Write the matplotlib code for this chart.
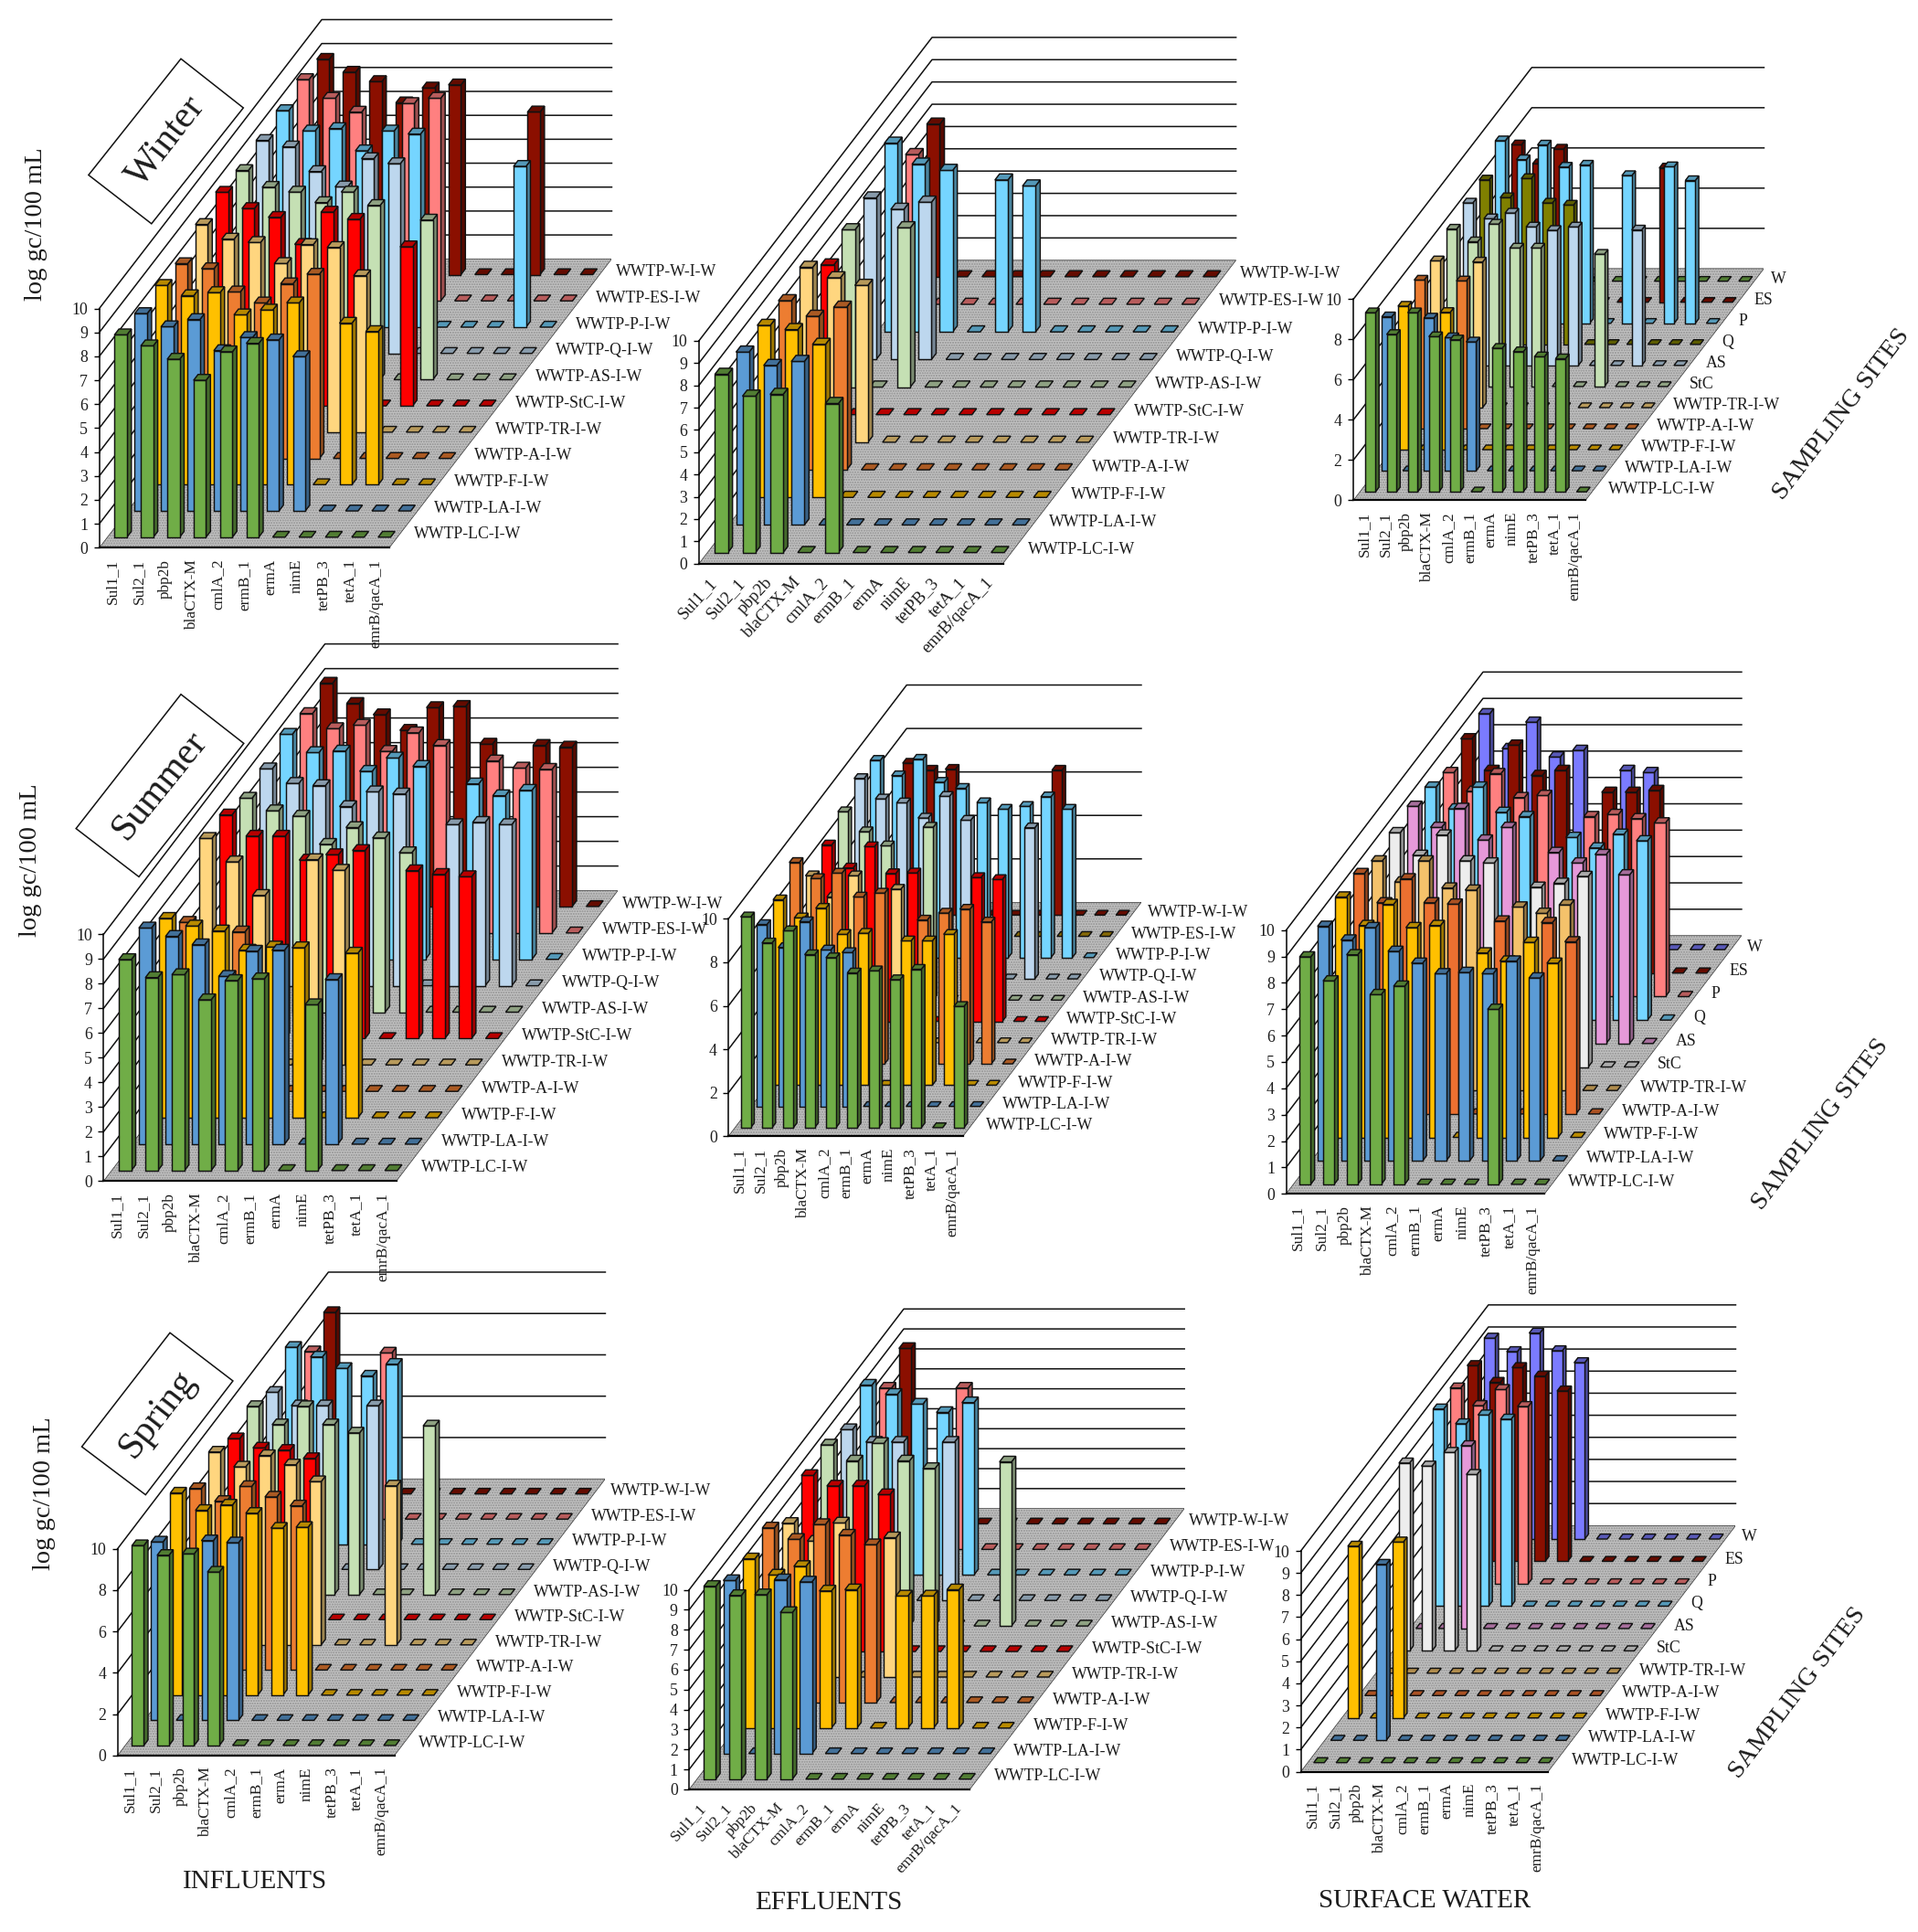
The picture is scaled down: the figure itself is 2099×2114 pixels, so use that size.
import matplotlib
matplotlib.use("Agg")
import matplotlib.pyplot as plt
from matplotlib.patches import Polygon
from matplotlib.colors import to_rgb

plt.rcParams['font.family'] = ['Liberation Serif', 'DejaVu Serif']
plt.rcParams['hatch.linewidth'] = 1.0

genes = ['Sul1_1', 'Sul2_1', 'pbp2b', 'blaCTX-M', 'cmlA_2', 'ermB_1', 'ermA', 'nimE', 'tetPB_3', 'tetA_1', 'emrB/qacA_1']
sites_wwtp = ['WWTP-LC-I-W', 'WWTP-LA-I-W', 'WWTP-F-I-W', 'WWTP-A-I-W', 'WWTP-TR-I-W', 'WWTP-StC-I-W',
              'WWTP-AS-I-W', 'WWTP-Q-I-W', 'WWTP-P-I-W', 'WWTP-ES-I-W', 'WWTP-W-I-W']
sites_river = ['WWTP-LC-I-W', 'WWTP-LA-I-W', 'WWTP-F-I-W', 'WWTP-A-I-W', 'WWTP-TR-I-W', 'StC', 'AS', 'Q', 'P', 'ES', 'W']

# row colours, front row first
GREEN, BLUE, YELLOW, ORANGE = '#70AD47', '#5B9BD5', '#FFC000', '#ED7D31'
LIGHTOR, RED, PALEGR, PALEBL = '#FFD67F', '#FF0000', '#C5E0B4', '#BDD7EE'
SKY, SALMON, DARKRED, OLIVE = '#75D5FF', '#FF8080', '#8B0F00', '#808000'
TAN, WHITE, PINK, PERI, GOLD = '#F4C26B', '#EDEDED', '#E699D9', '#7B7BFF', '#B8900A'
colors_wwtp = [GREEN, BLUE, YELLOW, ORANGE, LIGHTOR, RED, PALEGR, PALEBL, SKY, SALMON, DARKRED]
colors_w_sw = [GREEN, BLUE, YELLOW, ORANGE, LIGHTOR, PALEGR, PALEBL, OLIVE, SKY, DARKRED, GREEN]
colors_s_ef = [GREEN, BLUE, YELLOW, ORANGE, LIGHTOR, RED, PALEGR, PALEBL, SKY, GOLD, DARKRED]
colors_river = [GREEN, BLUE, YELLOW, '#EC7030', TAN, WHITE, PINK, SKY, SALMON, DARKRED, PERI]

# log gc/100 mL, one line per site (front to back), 0 = not detected
winter_inf = [
    [8.46, 8.0, 7.44, 6.56, 7.75, 8.1, 0, 0, 0, 0, 0],
    [8.25, 7.7, 8.0, 6.7, 7.25, 7.15, 6.45, 0, 0, 0, 0],
    [8.33, 7.9, 8.03, 7.1, 7.3, 7.6, 0, 6.75, 6.4, 0, 0],
    [8.14, 7.93, 6.96, 6.5, 7.3, 7.7, 0, 0, 0, 0, 0],
    [8.68, 8.07, 7.93, 7.05, 7.84, 7.72, 6.54, 0, 0, 0, 0],
    [8.93, 8.25, 7.88, 6.75, 8.1, 7.8, 0, 6.65, 0, 0, 0],
    [8.74, 8.04, 7.84, 7.4, 7.84, 7.28, 0, 6.67, 0, 0, 0],
    [8.9, 8.63, 7.6, 6.96, 8.14, 7.93, 0, 0, 0, 0, 0],
    [9.05, 8.2, 8.3, 7.37, 8.2, 8.07, 0, 0, 0, 6.72, 0],
    [9.25, 8.47, 7.89, 0, 8.25, 8.47, 0, 0, 0, 0, 0],
    [9.0, 8.46, 8.07, 7.18, 7.8, 7.93, 0, 0, 6.8, 0, 0],
]
winter_eff = [
    [8.0, 7.02, 7.1, 0, 6.69, 0, 0, 0, 0, 0, 0],
    [7.76, 7.16, 7.34, 0, 0, 0, 0, 0, 0, 0, 0],
    [7.72, 7.53, 6.87, 0, 0, 0, 0, 0, 0, 0, 0],
    [7.59, 6.89, 7.3, 0, 0, 0, 0, 0, 0, 0, 0],
    [7.85, 7.38, 7.04, 0, 0, 0, 0, 0, 0, 0, 0],
    [6.72, 0, 0, 0, 0, 0, 0, 0, 0, 0, 0],
    [7.06, 0, 7.15, 0, 0, 0, 0, 0, 0, 0, 0],
    [7.25, 6.74, 7.06, 0, 0, 0, 0, 0, 0, 0, 0],
    [8.47, 7.53, 7.25, 0, 6.82, 6.55, 0, 0, 0, 0, 0],
    [6.72, 0, 0, 0, 0, 0, 0, 0, 0, 0, 0],
    [6.85, 0, 0, 0, 0, 0, 0, 0, 0, 0, 0],
]
winter_sw = [
    [8.91, 7.83, 8.91, 7.72, 7.56, 0, 7.14, 6.97, 6.72, 6.62, 0],
    [7.66, 0, 7.6, 6.62, 6.41, 0, 0, 0, 0, 0, 0],
    [7.14, 0, 6.83, 0, 0, 0, 0, 0, 0, 0, 0],
    [7.39, 0, 7.35, 0, 0, 0, 0, 0, 0, 0, 0],
    [7.3, 0, 7.24, 0, 0, 0, 0, 0, 0, 0, 0],
    [7.83, 7.2, 8.08, 6.89, 6.89, 0, 0, 6.58, 0, 0, 0],
    [8.08, 7.3, 7.58, 6.89, 6.72, 6.89, 0, 0, 6.74, 0, 0],
    [8.18, 7.3, 8.25, 7.03, 6.93, 0, 0, 0, 0, 0, 0],
    [9.08, 8.14, 8.87, 7.77, 7.87, 0, 7.35, 0, 7.79, 7.1, 0],
    [7.83, 6.89, 7.62, 0, 0, 0, 0, 6.68, 0, 0, 0],
    [0, 0, 0, 0, 0, 0, 0, 0, 0, 0, 0],
]
summer_inf = [
    [8.55, 7.82, 7.94, 6.92, 7.7, 7.77, 0, 6.72, 0, 0, 0],
    [8.76, 8.42, 8.08, 6.8, 7.82, 7.86, 0, 6.67, 0, 0, 0],
    [8.08, 7.77, 7.57, 6.79, 6.92, 6.89, 0, 6.67, 0, 0, 0],
    [6.85, 0, 6.46, 0, 0, 0, 0, 0, 0, 0, 0],
    [9.18, 8.23, 6.87, 0, 8.32, 7.89, 0, 0, 0, 0, 0],
    [9.06, 8.2, 8.2, 7.23, 7.45, 7.62, 0, 6.8, 6.65, 6.56, 0],
    [8.67, 8.16, 7.94, 6.8, 7.48, 7.06, 6.46, 0, 0, 0, 0],
    [8.79, 8.2, 8.11, 7.26, 7.86, 7.77, 0, 6.53, 6.62, 6.53, 0],
    [9.12, 8.38, 8.44, 7.62, 8.16, 7.82, 0, 7.11, 6.63, 6.85, 0],
    [8.89, 8.28, 8.42, 7.36, 8.11, 7.6, 0, 6.97, 6.68, 6.63, 0],
    [9.05, 8.23, 7.77, 7.14, 8.06, 8.11, 6.58, 0, 6.53, 6.46, 0],
]
summer_eff = [
    [9.7, 8.5, 9.06, 7.96, 7.82, 7.12, 7.22, 6.81, 7.29, 0, 5.58],
    [8.37, 7.31, 8.5, 7.2, 7.08, 0, 0, 0, 0, 0, 0],
    [8.53, 7.7, 8.14, 6.94, 6.99, 0, 6.64, 6.64, 6.94, 0, 0],
    [9.27, 8.53, 8.78, 7.68, 7.86, 0, 6.62, 6.94, 7.12, 6.53, 0],
    [7.68, 6.7, 7.68, 0, 7.06, 0, 0, 0, 0, 0, 0],
    [8.12, 7.06, 8.04, 6.8, 6.83, 0, 0, 6.62, 6.53, 0, 0],
    [8.67, 7.75, 7.1, 0, 7.96, 0, 0, 0, 0, 0, 0],
    [9.22, 8.28, 8.1, 7.4, 8.4, 7.3, 0, 0, 6.95, 0, 0],
    [9.08, 8.37, 9.13, 8.07, 7.79, 7.13, 6.83, 6.96, 7.4, 6.83, 0],
    [0, 0, 0, 0, 0, 0, 0, 0, 0, 0, 0],
    [6.99, 6.67, 6.71, 0, 0, 0, 0, 6.67, 0, 0, 0],
]
summer_sw = [
    [8.63, 7.72, 8.71, 7.2, 7.52, 0, 0, 0, 6.64, 0, 0],
    [8.9, 8.38, 8.85, 7.95, 7.5, 7.1, 7.15, 7.1, 7.58, 6.94, 0],
    [9.12, 8.04, 8.84, 7.96, 8.04, 0, 7.0, 6.69, 7.4, 6.61, 0],
    [9.12, 8.01, 8.92, 8.01, 7.96, 0, 7.32, 0, 7.26, 6.53, 0],
    [8.71, 7.91, 8.71, 7.68, 7.6, 0, 6.96, 6.72, 7.04, 0, 0],
    [8.89, 8.03, 8.8, 7.82, 7.74, 0, 6.82, 6.97, 7.23, 0, 0],
    [9.0, 8.2, 8.92, 7.72, 8.2, 0, 7.25, 6.85, 7.17, 6.4, 0],
    [8.84, 8.01, 8.84, 7.88, 7.72, 0, 6.93, 6.53, 7.05, 6.8, 0],
    [8.5, 7.79, 8.46, 7.55, 7.63, 0, 6.83, 6.91, 6.75, 6.59, 0],
    [8.89, 7.69, 8.65, 7.5, 7.69, 0, 6.86, 6.86, 6.93, 0, 0],
    [8.95, 7.63, 8.63, 7.31, 7.56, 0, 6.8, 6.72, 0, 0, 0],
]
spring_inf = [
    [9.67, 9.2, 9.27, 8.39, 0, 0, 0, 0, 0, 0, 0],
    [8.63, 0, 8.69, 8.59, 0, 0, 0, 0, 0, 0, 0],
    [9.78, 8.94, 9.2, 8.8, 8.08, 8.12, 0, 0, 0, 0, 0],
    [8.78, 8.16, 8.88, 8.37, 7.94, 0, 0, 0, 0, 0, 0],
    [9.33, 8.61, 9.16, 8.71, 7.9, 0, 0, 7.69, 0, 0, 0],
    [8.76, 8.31, 8.2, 7.8, 0, 0, 0, 0, 0, 0, 0],
    [9.1, 8.22, 9.1, 8.22, 7.82, 0, 0, 8.16, 0, 0, 0],
    [8.57, 7.92, 7.92, 0, 7.92, 0, 0, 0, 0, 0, 0],
    [9.53, 9.06, 8.51, 8.14, 8.71, 0, 0, 0, 0, 0, 0],
    [8.1, 0, 0, 8.04, 0, 0, 0, 0, 0, 0, 0],
    [8.78, 0, 0, 0, 0, 0, 0, 0, 0, 0, 0],
]
spring_eff = [
    [9.66, 9.2, 9.24, 8.35, 0, 0, 0, 0, 0, 0, 0],
    [8.67, 0, 8.71, 8.6, 0, 0, 0, 0, 0, 0, 0],
    [8.48, 7.67, 8.1, 6.87, 6.93, 0, 6.62, 6.62, 6.93, 0, 0],
    [8.75, 8.18, 8.92, 8.39, 7.91, 0, 0, 0, 0, 0, 0],
    [7.7, 6.81, 7.72, 0, 6.98, 0, 0, 0, 0, 0, 0],
    [8.82, 8.29, 8.29, 7.86, 0, 0, 0, 0, 0, 0, 0],
    [9.07, 8.27, 9.15, 8.27, 7.89, 0, 0, 8.22, 0, 0, 0],
    [8.56, 7.93, 7.93, 0, 7.93, 0, 0, 0, 0, 0, 0],
    [9.51, 9.05, 8.56, 8.14, 8.63, 0, 0, 0, 0, 0, 0],
    [8.08, 0, 0, 8.08, 0, 0, 0, 0, 0, 0, 0],
    [8.79, 0, 0, 0, 0, 0, 0, 0, 0, 0, 0],
]
spring_sw = [
    [0, 0, 0, 0, 0, 0, 0, 0, 0, 0, 0],
    [0, 0, 7.97, 0, 0, 0, 0, 0, 0, 0, 0],
    [7.78, 0, 7.97, 0, 0, 0, 0, 0, 0, 0, 0],
    [0, 0, 0, 0, 0, 0, 0, 0, 0, 0, 0],
    [0, 0, 0, 0, 0, 0, 0, 0, 0, 0, 0],
    [8.51, 8.37, 8.99, 7.99, 0, 0, 0, 0, 0, 0, 0],
    [0, 0, 8.28, 0, 0, 0, 0, 0, 0, 0, 0],
    [8.93, 8.26, 8.66, 8.47, 0, 0, 0, 0, 0, 0, 0],
    [8.87, 8.07, 8.8, 8.03, 0, 0, 0, 0, 0, 0, 0],
    [8.87, 8.11, 8.78, 8.39, 7.72, 0, 0, 0, 0, 0, 0],
    [9.1, 8.49, 9.33, 8.53, 7.99, 0, 0, 0, 0, 0, 0],
]

W, H = 2099, 2114
fig = plt.figure(figsize=(W / 100, H / 100), dpi=100, facecolor='white')

N = 11
INK = '#1c1c1c'
BAR_W, COL_OFF, ROW_OFF, DEPTH = 0.47, 0.27, 0.4, 0.22


def shade(color, f):
    return tuple(v * f for v in to_rgb(color))


def panel(data, colors, sites, x0, y0, dcol, rx, ry, unit, step=1, rot=90, lab_size=13.6, lab_pos=0.5):
    # one axes per chart: x counts genes, y counts log units, rows are sheared on top
    kx, ky = rx / dcol, ry / unit
    width = N * (dcol + rx)
    height = N * ry + 10 * unit
    ax = fig.add_axes([x0 / W, 1 - y0 / H, width / W, height / H])
    ax.set_xlim(0, N + N * kx)
    ax.set_ylim(0, 10 + N * ky)
    ax.patch.set_visible(False)

    def pt(c, r, v=0):
        return (c + r * kx, v + r * ky)

    # walls go under everything else
    ticks = list(range(0, 11, step))
    for v in ticks[1:]:
        ax.plot([0, N * kx, N + N * kx], [v, v + N * ky, v + N * ky], color='#111111', lw=1.1,
                clip_on=False, zorder=0.5)

    # floor
    corners = [pt(0, 0), pt(N, 0), pt(N, N), pt(0, N)]
    ax.add_patch(Polygon(corners, closed=True, facecolor='#c2c2c2', edgecolor='#8f8f8f', hatch='......', lw=0))
    ax.add_patch(Polygon(corners, closed=True, fill=False, edgecolor='#333333', lw=0.5))

    # bars, back row first
    for r in range(N - 1, -1, -1):
        col = colors[r]
        for c in range(N):
            v = data[r][c]
            a, b = c + COL_OFF, c + COL_OFF + BAR_W
            f, k = r + ROW_OFF, r + ROW_OFF + DEPTH
            ec = '#111111'
            if v > 0:
                ax.add_patch(Polygon([pt(b, f), pt(b, k), pt(b, k, v), pt(b, f, v)], closed=True,
                                     facecolor=shade(col, 0.62), edgecolor=ec, lw=1.05))
                ax.add_patch(Polygon([pt(a, f), pt(b, f), pt(b, f, v), pt(a, f, v)], closed=True,
                                     facecolor=col, edgecolor=ec, lw=1.05))
            ax.add_patch(Polygon([pt(a, f, v), pt(b, f, v), pt(b, k, v), pt(a, k, v)], closed=True,
                                 facecolor=shade(col, 0.72), edgecolor=ec, lw=1.05))

    # axes
    for s in ['top', 'right']:
        ax.spines[s].set_visible(False)
    ax.spines['left'].set_bounds(0, 10)
    ax.spines['bottom'].set_bounds(0, N)
    ax.spines['bottom'].set_linewidth(1.6)
    ax.spines['left'].set_linewidth(1.1)
    ax.set_yticks(ticks)
    ax.set_yticklabels([str(t) for t in ticks], fontsize=12.8, color=INK)
    ax.tick_params(axis='y', length=4, width=1, pad=5)
    ax.set_xticks([c + lab_pos for c in range(N)])
    if rot == 90:
        ax.set_xticklabels(genes, rotation=90, ha='center', va='top', fontsize=12.4, color=INK)
    else:
        ax.set_xticklabels(genes, rotation=rot, ha='right', va='top', rotation_mode='anchor',
                           fontsize=lab_size, color=INK)
    ax.tick_params(axis='x', length=0, pad=9)

    # site names along the right edge of the floor
    for r, name in enumerate(sites):
        x, y = pt(N, r + 0.5)
        ax.annotate(name, (x, y), xytext=(11.5, 0), textcoords='offset points', va='center', ha='left',
                    fontsize=12.8, color=INK, annotation_clip=False)
    return ax


panel(winter_inf, colors_wwtp, sites_wwtp, 108.7, 599.3, 28.85, 22.13, 28.73, 26.18)
panel(winter_eff, colors_wwtp, sites_wwtp, 764.9, 616.7, 30.24, 23.19, 30.18, 24.38, rot=47, lab_pos=0.37)
panel(winter_sw, colors_w_sw, sites_river, 1481.1, 547.4, 23.1, 17.75, 23.05, 22.0, step=2)
panel(summer_inf, colors_wwtp, sites_wwtp, 113.3, 1292.4, 29.13, 22.03, 28.89, 27.0)
panel(summer_eff, colors_s_ef, sites_wwtp, 797.2, 1243.2, 23.34, 17.73, 23.26, 23.78, step=2)
panel(summer_sw, colors_river, sites_river, 1407.5, 1306.2, 25.72, 19.59, 25.68, 28.84)
panel(spring_inf, colors_wwtp, sites_wwtp, 128.6, 1920.9, 27.55, 20.98, 27.52, 22.62, step=2)
panel(spring_eff, colors_wwtp, sites_wwtp, 754.2, 1957.9, 27.92, 21.35, 27.93, 21.84, rot=47, lab_size=12.5, lab_pos=0.38)
panel(spring_sw, colors_river, sites_river, 1423.6, 1938.5, 24.6, 18.66, 24.47, 24.15)

# overlay for the free text
over = fig.add_axes([0, 0, 1, 1])
over.set_xlim(0, W)
over.set_ylim(H, 0)
over.axis('off')
over.patch.set_visible(False)

for x, y in [(40, 245), (34, 941), (49, 1634)]:
    over.text(x, y, 'log gc/100 mL', rotation=90, ha='center', va='center', fontsize=20.5, color=INK)

season_boxes = [
    ('Winter', [(96.9, 191.5), (198, 64.3), (266.3, 118), (165.8, 244.8)], (181.6, 154.6), 52),
    ('Summer', [(83.2, 906.6), (198, 759.7), (266.8, 813.4), (152, 959.4)], (175, 860), 51),
    ('Spring', [(89.5, 1583), (186, 1458.3), (254.9, 1511), (159.3, 1635.6)], (172, 1547), 52),
]
for name, box, (x, y), ang in season_boxes:
    over.add_patch(Polygon(box, closed=True, facecolor='white', edgecolor='#111111', lw=1.1))
    over.text(x, y, name, rotation=ang, ha='center', va='center', fontsize=30, color=INK)

for name, x, y in [('INFLUENTS', 279, 2059), ('EFFLUENTS', 906.6, 2081.7), ('SURFACE WATER', 1559, 2080)]:
    over.text(x, y, name, ha='center', va='center', fontsize=21, color=INK)

for x, y in [(2015, 453.5), (1992, 1230), (1967, 1852.5)]:
    over.text(x, y, 'SAMPLING SITES', rotation=52.5, ha='center', va='center', fontsize=20.5, color=INK)

fig.savefig('out.png', dpi=100, facecolor='white')
